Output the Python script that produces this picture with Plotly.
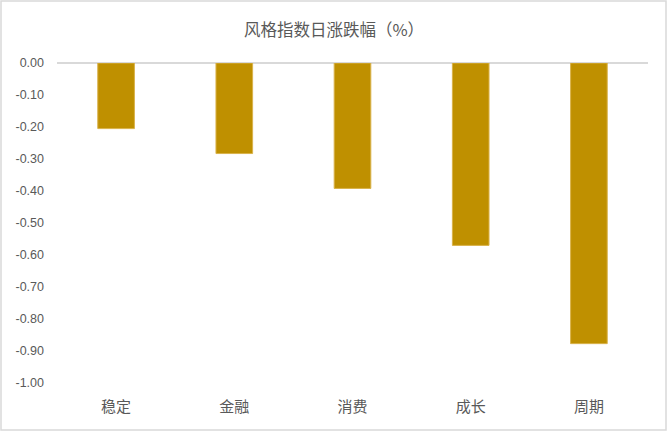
import plotly.graph_objects as go

categories = ["稳定", "金融", "消费", "成长", "周期"]
values = [-0.205, -0.283, -0.392, -0.570, -0.877]
tick_vals = [0.0, -0.1, -0.2, -0.3, -0.4, -0.5, -0.6, -0.7, -0.8, -0.9, -1.0]
tick_text = ["0.00", "-0.10", "-0.20", "-0.30", "-0.40", "-0.50", "-0.60", "-0.70", "-0.80", "-0.90", "-1.00"]
title_text = "风格指数日涨跌幅（%）"

font_family = "Noto Sans CJK SC, Liberation Sans, sans-serif"
grey = "#595959"

fig = go.Figure(
    go.Bar(
        x=categories,
        y=values,
        marker=dict(color="#BF9000", line=dict(color="#D9B24A", width=1)),
        width=0.31,
    )
)

L, R, T, B = 57, 20, 63, 49
W, H = 668, 432
pw, ph = W - L - R, H - T - B

fig.update_layout(
    width=W,
    height=H,
    margin=dict(l=L, r=R, t=T, b=B),
    paper_bgcolor="white",
    plot_bgcolor="white",
    showlegend=False,
    title=dict(
        text=title_text,
        x=0.5,
        xanchor="center",
        y=1 - 30 / H,
        yanchor="middle",
        font=dict(family=font_family, size=16.5, color=grey),
    ),
    font=dict(family=font_family, color=grey),
    bargap=0.69,
    shapes=[
        dict(
            type="rect",
            xref="paper",
            yref="paper",
            x0=(1 - L) / pw,
            x1=(W - 2 - L) / pw,
            y0=-(H - 2 - (T + ph)) / ph,
            y1=(T + ph - 1) / ph,
            line=dict(color="#D9D9D9", width=1.5),
            fillcolor="rgba(0,0,0,0)",
            layer="below",
        )
    ],
)

fig.update_yaxes(
    range=[-1.0, 0.0],
    tickvals=tick_vals,
    ticktext=tick_text,
    showgrid=False,
    zeroline=True,
    zerolinecolor="#D9D9D9",
    zerolinewidth=1.5,
    showline=False,
    ticks="",
    ticklabelstandoff=12,
    tickfont=dict(family="Liberation Sans, sans-serif", size=12.5, color=grey),
)

fig.update_xaxes(
    showgrid=False,
    showline=False,
    ticks="outside",
    ticklen=10,
    tickcolor="rgba(0,0,0,0)",
    tickfont=dict(family=font_family, size=15, color=grey),
)

fig.write_html("out.html")
